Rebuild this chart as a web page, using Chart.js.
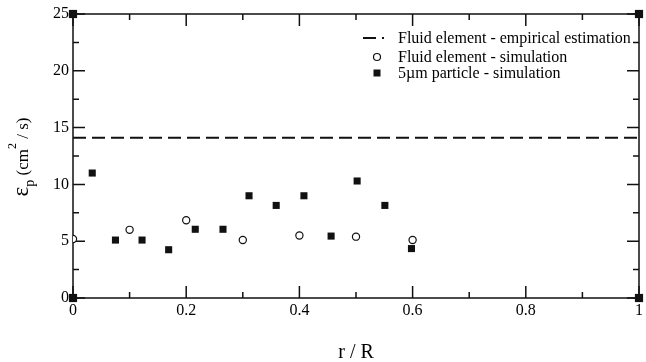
<!DOCTYPE html>
<html>
<head>
<meta charset="utf-8">
<script src="https://cdn.jsdelivr.net/npm/chart.js@4/dist/chart.umd.min.js"></script>
<style>
  html, body { margin: 0; padding: 0; background: #fff; }
  #wrap { width: 646px; height: 362px; }
</style>
</head>
<body>
<div id="wrap"><canvas id="chart"></canvas></div>
<script>
// values
let fluidX = [0, 0.1, 0.2, 0.3, 0.4, 0.5, 0.6];
let fluidY = [5.2, 6.0, 6.85, 5.1, 5.5, 5.4, 5.1];
let particleX = [0.034, 0.075, 0.122, 0.169, 0.216, 0.265, 0.311, 0.359, 0.408, 0.456, 0.502, 0.551, 0.598];
let particleY = [11.0, 5.1, 5.1, 4.25, 6.05, 6.05, 9.0, 8.15, 9.0, 5.45, 10.3, 8.15, 4.35];
let empiricalX = [0, 1];
let empiricalY = [14.1, 14.1];
// the plot program put squares on the four corners
let cornerX = [0, 0, 1, 1];
let cornerY = [0, 25, 0, 25];

let legendNames = [
  "Fluid element - empirical estimation",
  "Fluid element - simulation",
  "5\u00b5m particle - simulation"
];

function pts(xs, ys) {
  return xs.map((x, i) => ({ x: x, y: ys[i] }));
}

const serif = "'Liberation Serif', 'DejaVu Serif', serif";
const dash = [13, 6];

// frame + inward ticks on all four sides
const framePlugin = {
  id: "frame",
  beforeDatasetsDraw(chart) {
    let ctx = chart.ctx;
    let a = chart.chartArea;
    let xs = chart.scales.x, ys = chart.scales.y;
    ctx.save();
    ctx.strokeStyle = "#111";
    ctx.lineWidth = 1.5;
    ctx.strokeRect(a.left, a.top, a.right - a.left, a.bottom - a.top);
    ctx.beginPath();
    xs.ticks.forEach(t => {
      let px = xs.getPixelForValue(t.value);
      let len = t.label !== "" ? 12 : 6;
      ctx.moveTo(px, a.bottom); ctx.lineTo(px, a.bottom - len);
      ctx.moveTo(px, a.top); ctx.lineTo(px, a.top + len);
    });
    ys.ticks.forEach(t => {
      let py = ys.getPixelForValue(t.value);
      let len = t.label !== "" ? 12 : 6;
      ctx.moveTo(a.left, py); ctx.lineTo(a.left + len, py);
      ctx.moveTo(a.right, py); ctx.lineTo(a.right - len, py);
    });
    ctx.stroke();
    ctx.restore();
  },
  afterDraw(chart) {
    let ctx = chart.ctx;
    ctx.save();
    ctx.fillStyle = "#000";

    // x title
    ctx.font = "20px " + serif;
    ctx.textAlign = "center";
    ctx.textBaseline = "alphabetic";
    ctx.fillText("r / R", 356, 358);

    // y title with sub/superscript
    ctx.translate(28, 157);
    ctx.rotate(-Math.PI / 2);
    let parts = [
      { t: "\u03b5", f: "23px ", dy: 0 },
      { t: "p", f: "14px ", dy: 6 },
      { t: " (cm", f: "17px ", dy: 0 },
      { t: "2", f: "12px ", dy: -12 },
      { t: " / s)", f: "17px ", dy: 0 }
    ];
    let total = 0;
    parts.forEach(p => { ctx.font = p.f + serif; p.w = ctx.measureText(p.t).width; total += p.w; });
    let cx = -total / 2;
    ctx.textAlign = "left";
    parts.forEach(p => {
      ctx.font = p.f + serif;
      ctx.fillText(p.t, cx, p.dy);
      cx += p.w;
    });
    ctx.restore();

    // legend
    ctx.save();
    ctx.font = "16px " + serif;
    ctx.textAlign = "left";
    ctx.textBaseline = "middle";
    let rows = [38, 57, 73];
    ctx.strokeStyle = "#111";
    ctx.lineWidth = 2;
    ctx.setLineDash(dash);
    ctx.beginPath();
    ctx.moveTo(363, rows[0]); ctx.lineTo(384, rows[0]);
    ctx.stroke();
    ctx.setLineDash([]);
    ctx.lineWidth = 1.2;
    ctx.fillStyle = "#fff";
    ctx.beginPath();
    ctx.arc(377, rows[1], 3.5, 0, Math.PI * 2);
    ctx.fill(); ctx.stroke();
    ctx.fillStyle = "#111";
    ctx.fillRect(373.5, rows[2] - 3.5, 7, 7);
    ctx.fillStyle = "#000";
    legendNames.forEach((n, i) => ctx.fillText(n, 398, rows[i] + 1));
    ctx.restore();
  }
};

let ctx = document.getElementById("chart").getContext("2d");
let chart = new Chart(ctx, {
  type: "scatter",
  data: {
    datasets: [
      {
        label: legendNames[0],
        data: pts(empiricalX, empiricalY),
        showLine: true,
        borderColor: "#111",
        borderWidth: 2,
        borderDash: dash,
        pointRadius: 0
      },
      {
        label: legendNames[1],
        data: pts(fluidX, fluidY),
        pointStyle: "circle",
        pointRadius: 3.6,
        pointBorderWidth: 1.2,
        borderColor: "#111",
        backgroundColor: "#fff"
      },
      {
        label: legendNames[2],
        data: pts(particleX, particleY),
        pointStyle: "rect",
        pointRadius: 5,
        pointBorderWidth: 0,
        borderColor: "#111",
        backgroundColor: "#111"
      },
      {
        label: "corners",
        data: pts(cornerX, cornerY),
        pointStyle: "rect",
        pointRadius: 5.8,
        pointBorderWidth: 0,
        borderColor: "#111",
        backgroundColor: "#111",
        clip: false
      }
    ]
  },
  options: {
    responsive: true,
    maintainAspectRatio: false,
    animation: false,
    layout: { padding: { left: 0, top: 14, right: 7, bottom: 0 } },
    plugins: {
      legend: { display: false },
      tooltip: { enabled: false }
    },
    scales: {
      x: {
        type: "linear",
        min: 0,
        max: 1,
        grid: { display: false, drawTicks: false },
        border: { display: false },
        afterFit: s => { s.height = 64; },
        ticks: {
          stepSize: 0.1,
          padding: 3,
          maxRotation: 0,
          autoSkip: false,
          color: "#000",
          font: { family: serif, size: 16 },
          callback: v => {
            let k = Math.round(v * 10);
            if (k % 2 !== 0) return "";
            return String(k / 10);
          }
        }
      },
      y: {
        type: "linear",
        min: 0,
        max: 25,
        grid: { display: false, drawTicks: false },
        border: { display: false },
        afterFit: s => { s.width = 73; },
        ticks: {
          stepSize: 2.5,
          padding: 4,
          autoSkip: false,
          color: "#000",
          font: { family: serif, size: 16 },
          callback: v => (Math.abs(v % 5) < 1e-9 ? String(v) : "")
        }
      }
    }
  },
  plugins: [framePlugin]
});
</script>
</body>
</html>
